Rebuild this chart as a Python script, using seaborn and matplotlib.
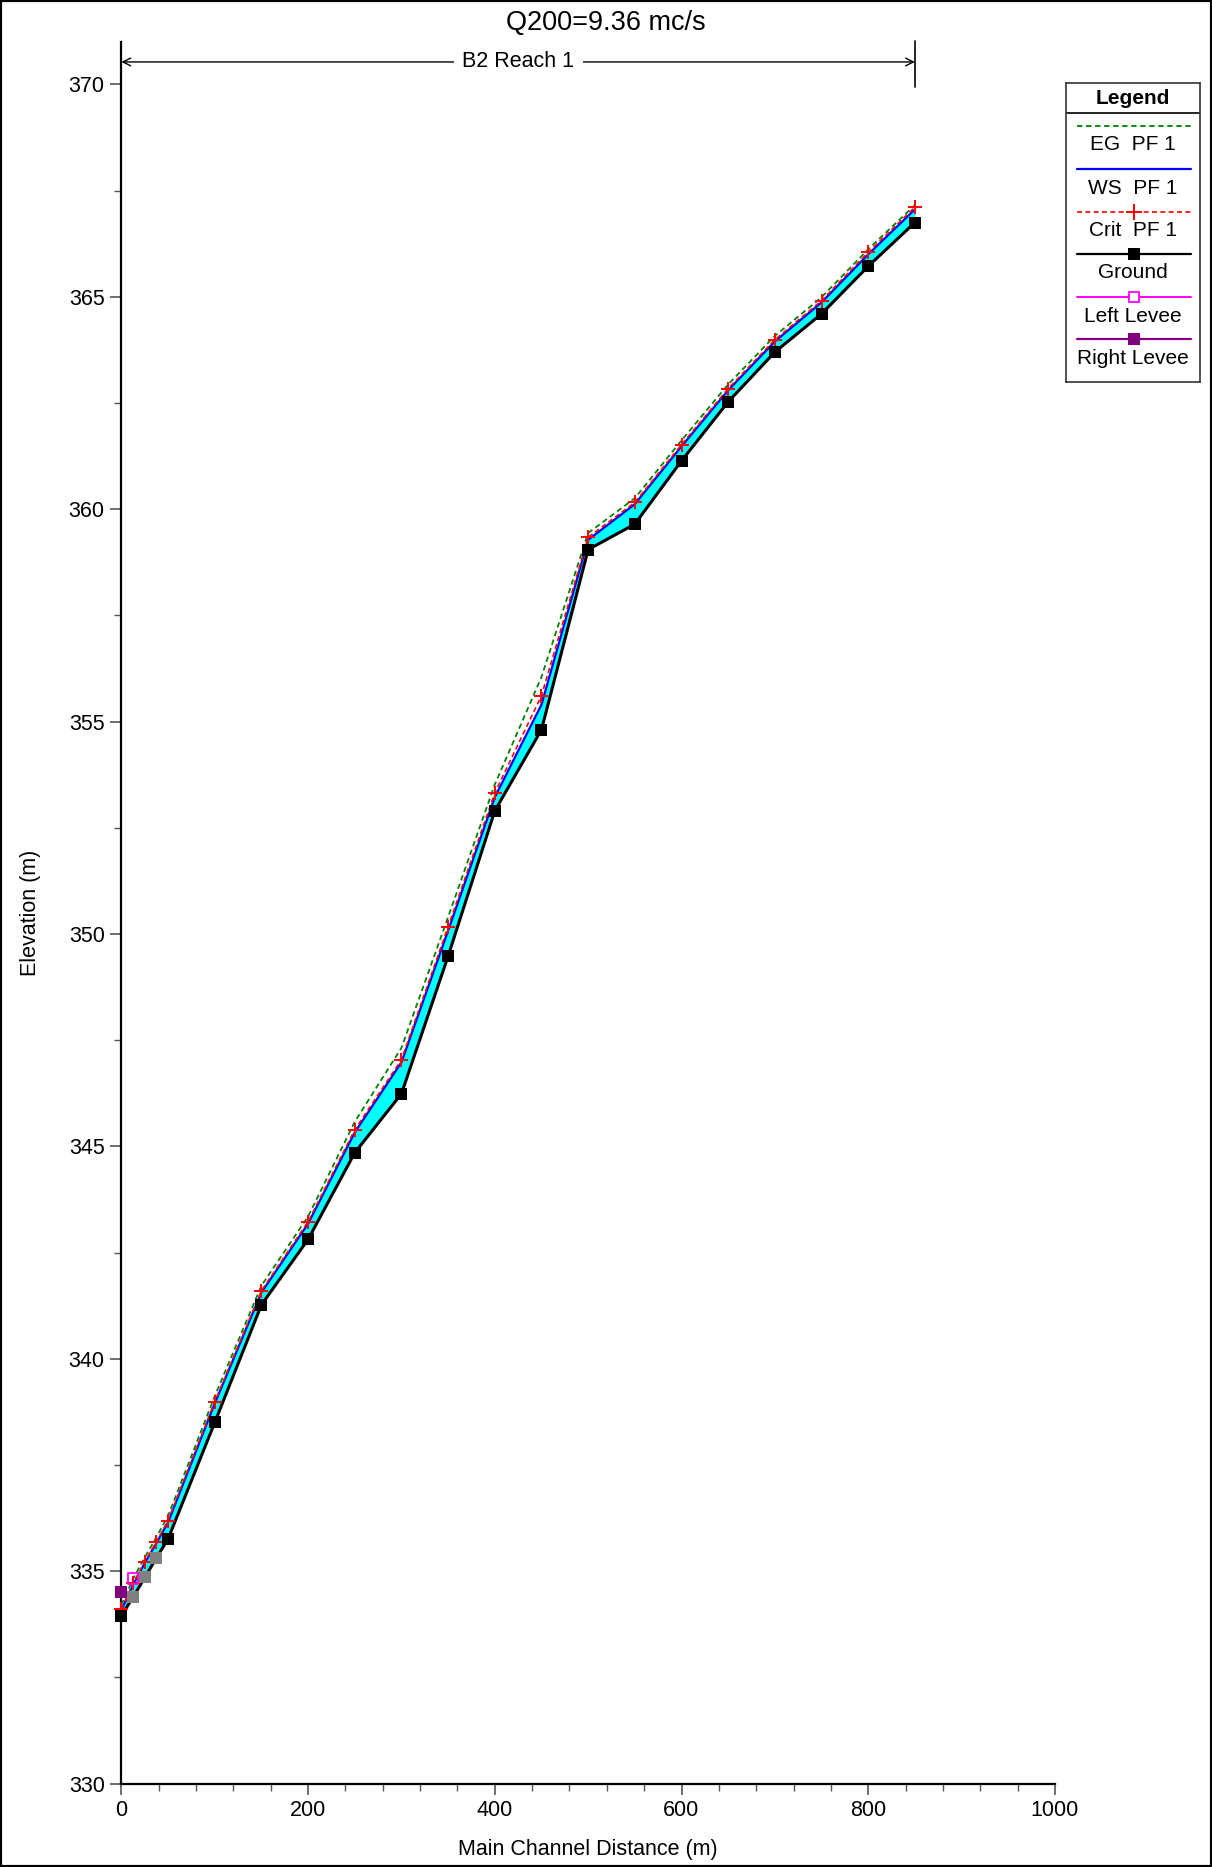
import matplotlib
matplotlib.use("Agg")
import matplotlib.pyplot as plt
import seaborn as sns
import numpy as np
import pandas as pd
from matplotlib.ticker import MultipleLocator
from matplotlib.patches import Rectangle

# ---------------- data ----------------
dist = [0, 12.5, 25, 37.5, 50, 100, 150, 200, 250, 300, 350, 400, 450,
        500, 550, 600, 650, 700, 750, 800, 850]
interpolated = [0, 1, 1, 1, 0, 0, 0, 0, 0, 0, 0, 0, 0, 0, 0, 0, 0, 0, 0, 0, 0]
ground = [333.95, 334.39, 334.85, 335.31, 335.76, 338.50, 341.27, 342.81,
          344.85, 346.24, 349.48, 352.90, 354.81, 359.05, 359.65, 361.14,
          362.53, 363.70, 364.60, 365.72, 366.75]
crit = [334.10, 334.71, 335.22, 335.69, 336.19, 338.99, 341.60, 343.23,
        345.39, 347.04, 350.17, 353.32, 355.61, 359.34, 360.16, 361.52,
        362.84, 363.99, 364.91, 366.05, 367.11]
ws = [334.08, 334.68, 335.19, 335.66, 336.15, 338.95, 341.56, 343.18,
      345.33, 346.98, 350.08, 353.22, 355.40, 359.28, 360.12, 361.48,
      362.80, 363.95, 364.87, 366.00, 367.06]
eg = [334.20, 334.82, 335.32, 335.80, 336.30, 339.12, 341.72, 343.35,
      345.58, 347.32, 350.40, 353.52, 356.05, 359.44, 360.26, 361.62,
      362.94, 364.08, 364.99, 366.12, 367.16]
left_levee_x = [12.5]
left_levee_z = [334.83]
right_levee_x = [0]
right_levee_z = [334.50]

title = "Q200=9.36 mc/s"
reach_name = "B2 Reach 1"
legend_labels = ["EG  PF 1", "WS  PF 1", "Crit  PF 1", "Ground", "Left Levee", "Right Levee"]

# ---------------- style ----------------
sns.set_style("ticks")
plt.rcParams['font.family'] = ['Liberation Sans', 'DejaVu Sans']
plt.rcParams['text.color'] = 'black'
plt.rcParams['axes.labelcolor'] = 'black'
plt.rcParams['xtick.labelcolor'] = 'black'
plt.rcParams['ytick.labelcolor'] = 'black'

W, H = 1212, 1867
fig = plt.figure(figsize=(W / 100, H / 100), dpi=100)
fig.patch.set_facecolor("white")
fig.patches.append(Rectangle((0, 0), 1, 1, transform=fig.transFigure,
                             fill=False, edgecolor="black", linewidth=3))

ax = fig.add_axes([121.4 / W, 83.5 / H, (1054.9 - 121.4) / W, (1825 - 83.5) / H])

df = pd.DataFrame({"dist": dist, "ground": ground, "crit": crit, "ws": ws,
                   "eg": eg, "interp": interpolated})

ax.fill_between(df["dist"], df["ground"], df["ws"], color="#00ffff", lw=0, zorder=1)

sns.lineplot(data=df, x="dist", y="eg", ax=ax, color="#008000", lw=1.3,
             linestyle=(0, (3, 2)), sort=False, estimator=None, zorder=3)
sns.lineplot(data=df, x="dist", y="ws", ax=ax, color="#0000ff", lw=1.6,
             sort=False, estimator=None, zorder=4)
sns.lineplot(data=df, x="dist", y="crit", ax=ax, color="#ff0000", lw=1.2,
             linestyle=(0, (3, 2)), sort=False, estimator=None, zorder=5)
ax.scatter(df["dist"], df["crit"], marker="+", s=110, color="#ff0000",
           linewidths=1.4, zorder=6, clip_on=False)
sns.lineplot(data=df, x="dist", y="ground", ax=ax, color="black", lw=2.2,
             sort=False, estimator=None, zorder=4)
main = df[df["interp"] == 0]
interp = df[df["interp"] == 1]
ax.scatter(main["dist"], main["ground"], marker="s", s=70, color="black",
           zorder=7, clip_on=False, linewidths=0)
ax.scatter(interp["dist"], interp["ground"], marker="s", s=70, color="#808080",
           zorder=7, clip_on=False, linewidths=0)
ax.scatter(left_levee_x, left_levee_z, marker="s", s=60, facecolors="none",
           edgecolors="#ff00ff", linewidths=1.3, zorder=8)
ax.scatter(right_levee_x, right_levee_z, marker="s", s=70, color="#800080",
           zorder=8, clip_on=False, linewidths=0)

ax.set_xlim(0, 1000)
ax.set_ylim(330, 371)
ax.set_yticks([330, 335, 340, 345, 350, 355, 360, 365, 370])
ax.set_xticks([0, 200, 400, 600, 800, 1000])
ax.xaxis.set_minor_locator(MultipleLocator(40))
ax.yaxis.set_minor_locator(MultipleLocator(2.5))
ax.tick_params(axis="both", which="major", direction="out", length=8, width=1.2,
               labelsize=15.5, color="#555555", pad=4)
ax.tick_params(axis="both", which="minor", direction="out", length=5, width=1.0,
               color="#555555")
for s in ["top", "right"]:
    ax.spines[s].set_visible(False)
for s in ["left", "bottom"]:
    ax.spines[s].set_color("black")
    ax.spines[s].set_linewidth(1.6)
ax.set_xlabel("Main Channel Distance (m)", fontsize=15.5, labelpad=13)
ax.set_ylabel("Elevation (m)", fontsize=15.5, labelpad=20)
ax.grid(False)

# reach bracket
yb = 370.53
ax.annotate("", xy=(0, yb), xytext=(850, yb),
            arrowprops=dict(arrowstyle="<->", color="black", lw=1.0,
                            shrinkA=0, shrinkB=0, mutation_scale=14), zorder=9,
            annotation_clip=False)
ax.plot([850, 850], [369.95, 371.02], color="black", lw=1.2, clip_on=False)
ax.text(425, yb, reach_name, ha="center", va="center", fontsize=15.5,
        bbox=dict(facecolor="white", edgecolor="none", pad=6), zorder=10)

fig.text(0.5, 1 - 23 / H, title, ha="center", va="center", fontsize=19.5)

# legend panel
lax = fig.add_axes([1066 / W, (H - 382) / H, 134 / W, 299 / H])
lax.set_xlim(0, 134)
lax.set_ylim(299, 0)
lax.set_xticks([])
lax.set_yticks([])
for s in lax.spines.values():
    s.set_color("#333333")
    s.set_linewidth(1.2)
lax.axhline(30, color="black", lw=1.2)
lax.text(67, 15, "Legend", ha="center", va="center", fontsize=15, fontweight="bold")
line_y = [43, 86, 129, 171, 214, 256]
label_y = [62, 105, 147, 190, 233, 275]
styles = [
    dict(color="#008000", ls=(0, (3, 2)), lw=1.3, marker=None),
    dict(color="#0000ff", ls="-", lw=1.6, marker=None),
    dict(color="#ff0000", ls=(0, (3, 2)), lw=1.2, marker="+"),
    dict(color="black", ls="-", lw=1.6, marker="s"),
    dict(color="#ff00ff", ls="-", lw=1.4, marker="s_open"),
    dict(color="#800080", ls="-", lw=1.6, marker="s"),
]
for ly, ty, lab, st in zip(line_y, label_y, legend_labels, styles):
    lax.plot([10.7, 124.7], [ly, ly], color=st["color"], ls=st["ls"], lw=st["lw"])
    if st["marker"] == "+":
        lax.plot([68], [ly], marker="+", ms=11, mew=1.4, color=st["color"])
    elif st["marker"] == "s":
        lax.plot([68], [ly], marker="s", ms=8, color=st["color"], mew=0)
    elif st["marker"] == "s_open":
        lax.plot([68], [ly], marker="s", ms=7, mfc="white", mec=st["color"], mew=1.3)
    lax.text(67, ty, lab, ha="center", va="center", fontsize=15)

fig.savefig("out.png", dpi=100)
